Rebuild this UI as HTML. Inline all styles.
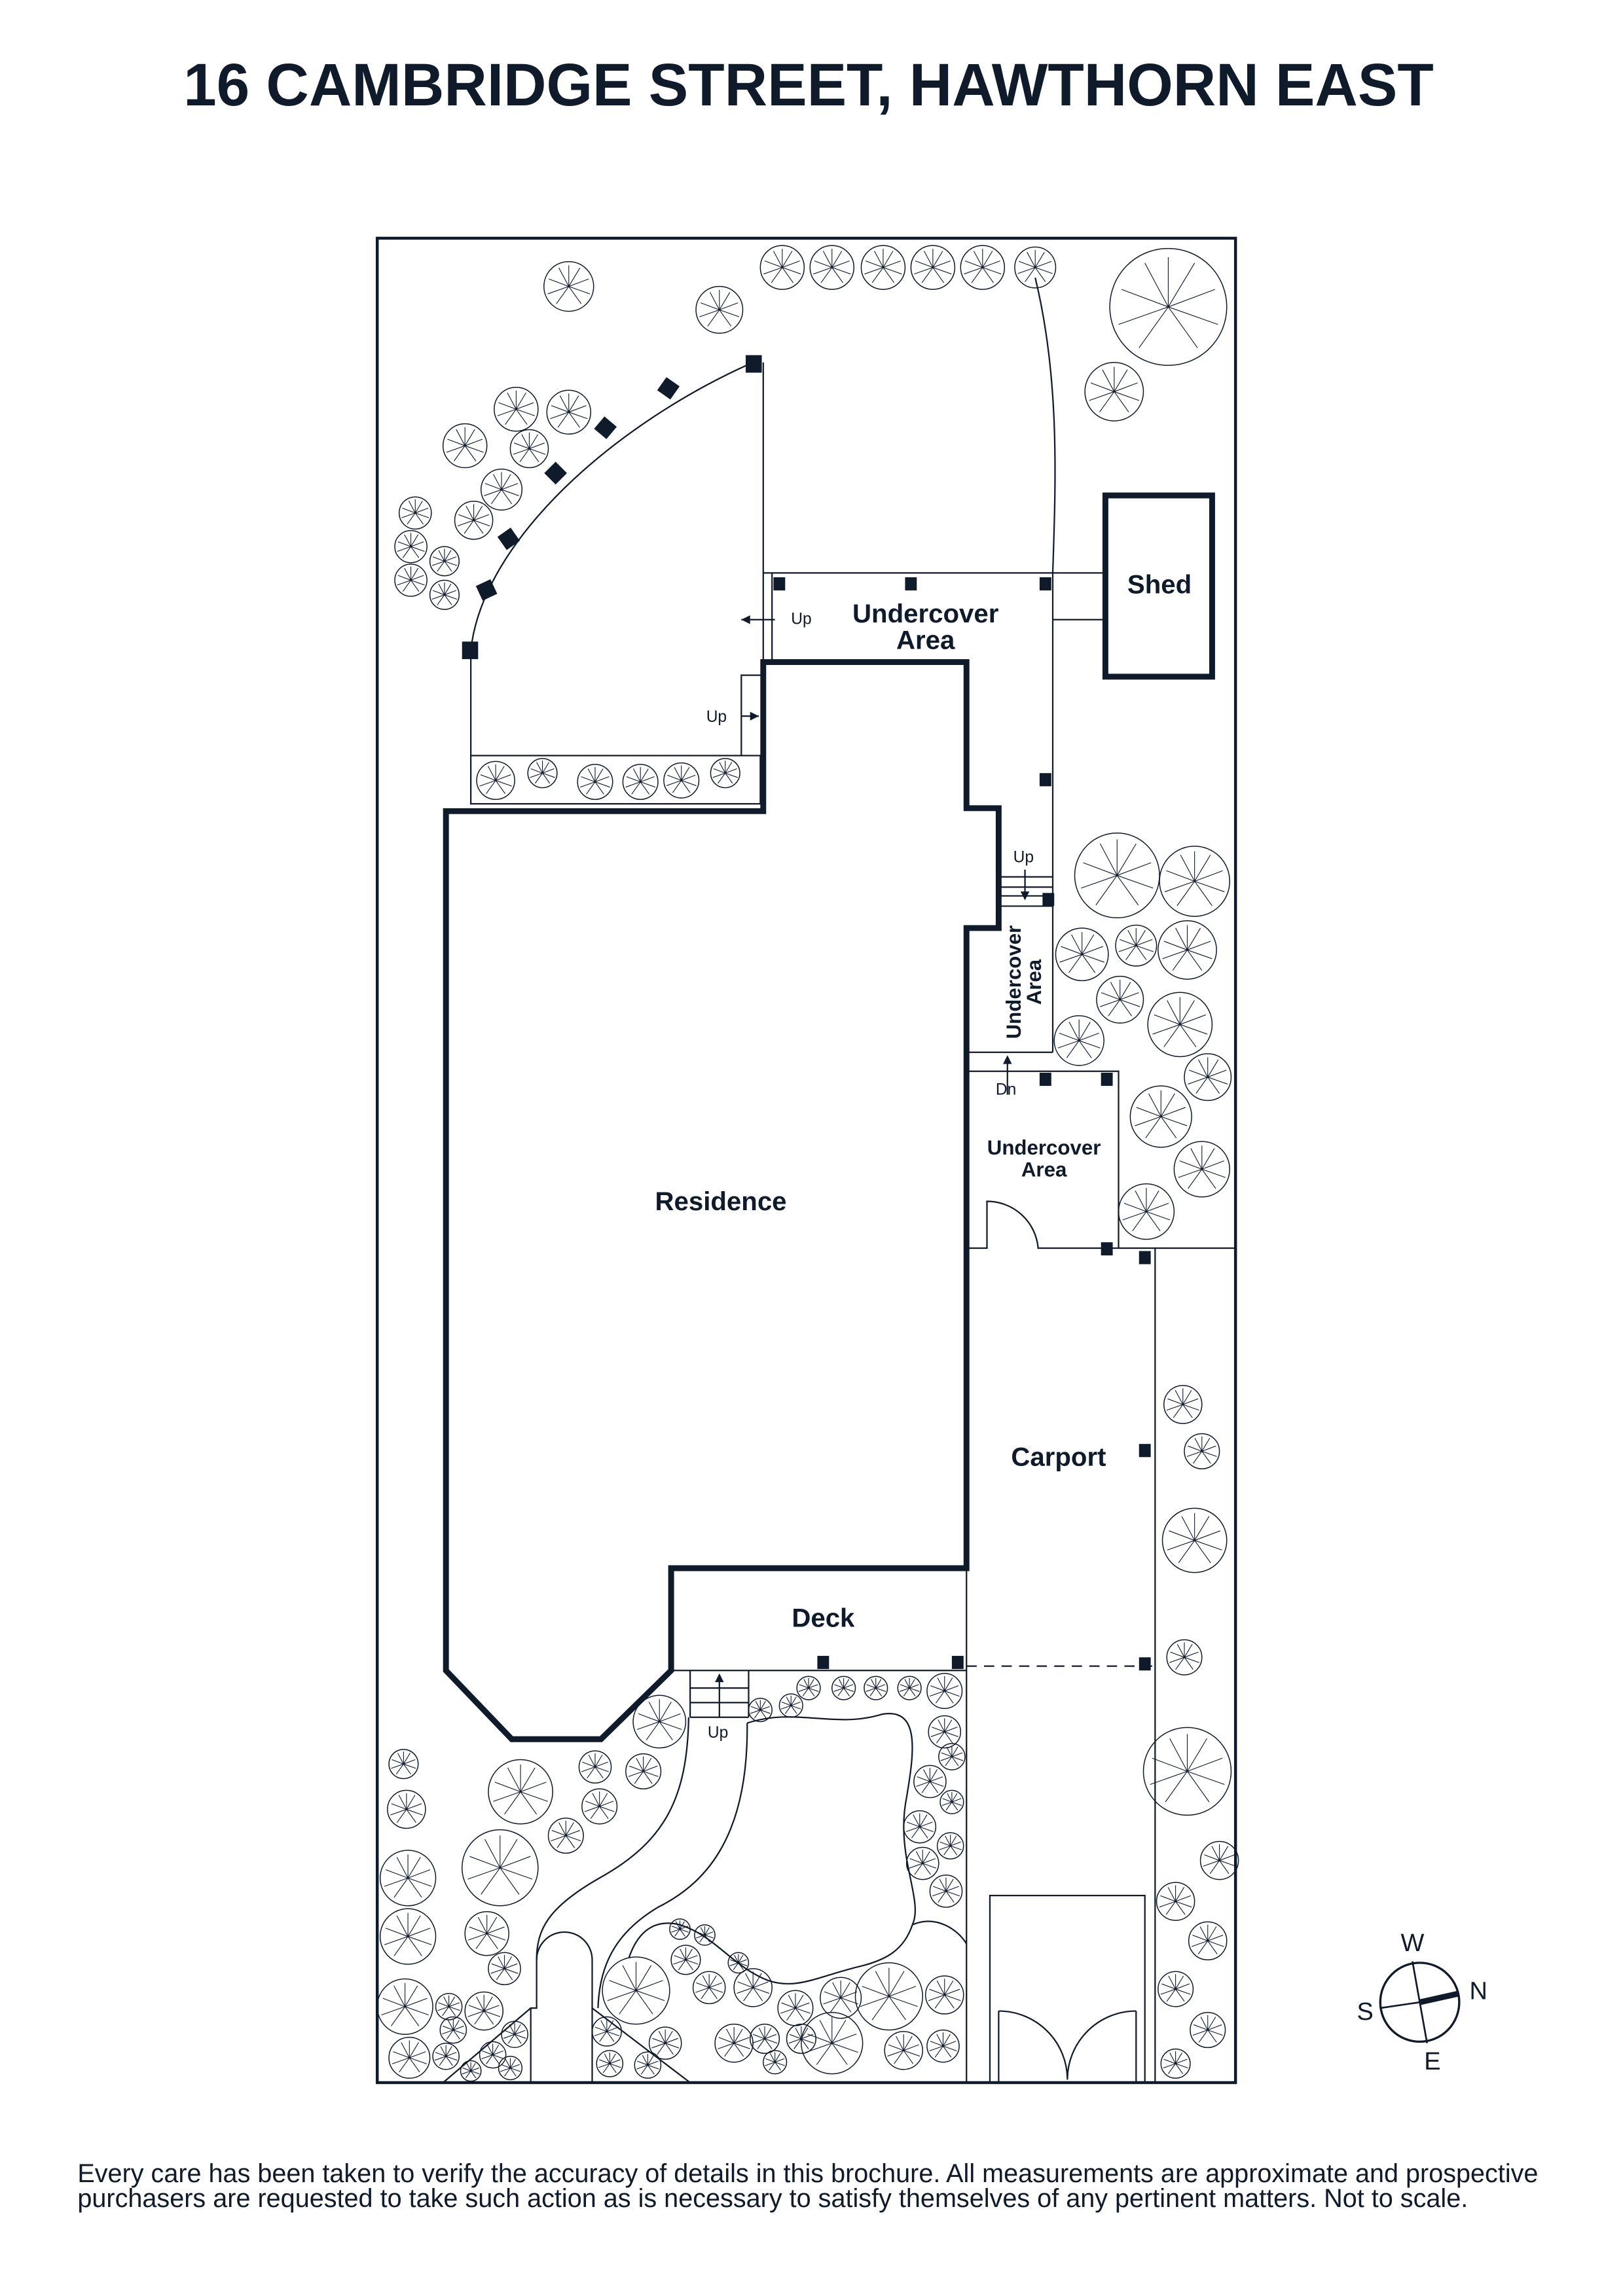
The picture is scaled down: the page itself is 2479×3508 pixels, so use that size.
<!DOCTYPE html>
<html><head><meta charset="utf-8"><style>
html,body{margin:0;padding:0;background:#fff}
svg{display:block}
text{font-family:"Liberation Sans",sans-serif;fill:#0f1a2b}
</style></head><body>
<svg width="2479" height="3508" viewBox="0 0 1110 1571" preserveAspectRatio="none" xmlns="http://www.w3.org/2000/svg">
<defs>
<g id="t" fill="none" stroke="#0f1a2b">
<circle r="1" vector-effect="non-scaling-stroke" stroke-width="1.5"/>
<path d="M0,0L0,-0.85M0,0L0.8,-0.3M0,0L0.5,0.7M0,0L-0.5,0.7M0,0L-0.8,-0.3M0,0L0.45,-0.75M0,0L-0.4,-0.75M0,0L0.85,0.3M0,0L-0.85,0.3" vector-effect="non-scaling-stroke" stroke-width="1.1"/>
</g>
</defs>
<text x="553" y="72" text-anchor="middle" font-size="41" font-weight="bold" textLength="855" lengthAdjust="spacingAndGlyphs">16 CAMBRIDGE STREET, HAWTHORN EAST</text>

<g fill="none" stroke="#0f1a2b" stroke-width="1">
<rect x="258" y="163" width="587" height="1262" stroke-width="2"/>
<path d="M305,555 L522,555 L522,453 L661,453 L661,553 L683,553 L683,635 L661,635 L661,1073 L459,1073 L459,1143 L411,1190 L350,1190 L305,1143 Z" stroke-width="4"/>
<rect x="756" y="339" width="73" height="124" stroke-width="4"/>
<path d="M522,248 L522,453 M528,392 L528,453 M522,392 L756,392 M720,424 L756,424 M720,392 L720,720 M708,190 C725,260 722,330 720,392"/>
<path d="M515,248 C420,290 330,370 322,445 L322,517"/>
<rect x="322" y="517" width="198" height="33"/>
<path d="M507,517 L507,462 L522,462"/>
<path d="M683,600 L720,600 M683,607 L720,607 M683,613 L720,613 M683,620 L720,620"/>
<path d="M661,720 L720,720 M661,733 L765,733 L765,854 M661,854 L675,854 L675,822 A35,35 0 0 1 710,854 L845,854"/>
<path d="M790,854 L790,1425 M661,1073 L661,1425 M459,1143 L661,1143"/>
<path d="M661,1140 L790,1140" stroke-dasharray="7,5"/>
<path d="M677,1425 L677,1297 L783,1297 L783,1425 M683,1425 L683,1376 M777,1425 L777,1376 M683,1376 A47,47 0 0 1 730,1423 M777,1376 A47,47 0 0 0 730,1423"/>
<path d="M472,1143 L472,1175 M512,1143 L512,1175 M472,1155 L512,1155 M472,1165 L512,1165 M472,1175 L512,1175"/>
<path d="M471,1175 C470,1230 455,1260 410,1285 C375,1305 367,1320 367,1341"/>
<path d="M511,1179 C512,1260 480,1290 450,1305 C425,1320 410,1340 409,1374"/>
<path d="M511,1179 C545,1168 570,1183 603,1173 C630,1168 625,1200 620,1230 C612,1270 632,1300 624,1317 C618,1335 605,1341 590,1345 C560,1352 545,1362 525,1355 C500,1345 490,1325 465,1317 C445,1312 435,1325 430,1340"/>
<path d="M624,1317 C640,1310 655,1320 661,1330"/>
<path d="M363,1425 L363,1374 L367,1374 L367,1341 A19,19 0 0 1 405,1341 L405,1425 M363,1374 L303,1425 M405,1374 L472,1425"/>
<circle cx="971" cy="1370" r="27" stroke-width="1.5"/>
<path d="M966,1342 L976,1398 M944,1374 L971,1370" stroke-width="1.2"/>
<path d="M971,1370 L998,1364" stroke-width="4"/>
</g>
<g fill="#0f1a2b">
<rect x="510" y="243" width="11" height="12"/>
<rect x="316" y="439" width="11" height="12"/>
<rect x="452" y="260" width="11" height="11" transform="rotate(35 457 265)"/>
<rect x="409" y="287" width="11" height="11" transform="rotate(40 414 292)"/>
<rect x="375" y="318" width="11" height="11" transform="rotate(45 380 323)"/>
<rect x="343" y="363" width="11" height="11" transform="rotate(55 348 368)"/>
<rect x="328" y="398" width="11" height="11" transform="rotate(65 333 403)"/>
<rect x="529" y="395" width="8" height="9"/><rect x="619" y="395" width="8" height="9"/><rect x="711" y="395" width="8" height="9"/>
<rect x="711" y="529" width="8" height="9"/><rect x="713" y="611" width="8" height="9"/>
<rect x="711" y="734" width="8" height="9"/><rect x="753" y="734" width="8" height="9"/><rect x="753" y="850" width="8" height="9"/><rect x="779" y="856" width="8" height="9"/>
<rect x="779" y="988" width="8" height="9"/><rect x="779" y="1134" width="8" height="9"/><rect x="559" y="1133" width="8" height="9"/><rect x="651" y="1133" width="8" height="9"/>
</g>
<g fill="none" stroke="#0f1a2b" stroke-width="1">
<path d="M507,424 L530,424 M519,490 L507,490 M701,595 L701,614 M689,749 L689,725"/>
</g>
<g fill="#0f1a2b"><path d="M507,424 l6,-3 v6z M519,490 l-6,-3 v6z M701,616 l-3,-6 h6z M689,722 l-3,6 h6z M492,1145 l-3,6 h6z"/></g>
<path d="M492,1150 L492,1175" stroke="#0f1a2b"/>
<g font-size="11"><text x="541" y="427">Up</text><text x="483" y="494">Up</text><text x="693" y="590">Up</text><text x="681" y="749">Dn</text><text x="484" y="1189">Up</text></g>
<g font-size="18" font-weight="bold" text-anchor="middle">
<text x="793" y="406">Shed</text><text x="633" y="426">Undercover</text><text x="633" y="444">Area</text>
<text x="493" y="828">Residence</text><text x="724" y="1003">Carport</text><text x="563" y="1113">Deck</text>
</g>
<g font-size="14" font-weight="bold" text-anchor="middle">
<text x="714" y="790">Undercover</text><text x="714" y="805">Area</text>
<text transform="translate(698,672) rotate(-90)">Undercover</text><text transform="translate(712,672) rotate(-90)">Area</text>
</g>
<g font-size="17"><text x="958" y="1335">W</text><text x="1005" y="1368">N</text><text x="928" y="1382">S</text><text x="974" y="1416">E</text></g>
<g font-size="17.8"><text x="53" y="1493" textLength="999" lengthAdjust="spacingAndGlyphs">Every care has been taken to verify the accuracy of details in this brochure. All measurements are approximate and prospective</text>
<text x="53" y="1510" textLength="951" lengthAdjust="spacingAndGlyphs">purchasers are requested to take such action as is necessary to satisfy themselves of any pertinent matters. Not to scale.</text></g>
<g>
<use href="#t" transform="translate(389,196) scale(17)"/><use href="#t" transform="translate(492,212) scale(16)"/>
<use href="#t" transform="translate(535,183) scale(15)"/><use href="#t" transform="translate(569,183) scale(15)"/><use href="#t" transform="translate(604,183) scale(15)"/><use href="#t" transform="translate(638,183) scale(15)"/><use href="#t" transform="translate(672,183) scale(15)"/><use href="#t" transform="translate(708,183) scale(14)"/>
<use href="#t" transform="translate(799,210) scale(40)"/><use href="#t" transform="translate(762,268) scale(20)"/>
<use href="#t" transform="translate(353,280) scale(15)"/><use href="#t" transform="translate(389,282) scale(15)"/><use href="#t" transform="translate(318,305) scale(15)"/><use href="#t" transform="translate(362,307) scale(13)"/><use href="#t" transform="translate(343,335) scale(14)"/><use href="#t" transform="translate(324,356) scale(13)"/><use href="#t" transform="translate(284,351) scale(11)"/><use href="#t" transform="translate(281,374) scale(11)"/><use href="#t" transform="translate(304,384) scale(10)"/><use href="#t" transform="translate(281,397) scale(11)"/><use href="#t" transform="translate(304,407) scale(10)"/>
<use href="#t" transform="translate(339,534) scale(13)"/><use href="#t" transform="translate(371,529) scale(10)"/><use href="#t" transform="translate(407,535) scale(12)"/><use href="#t" transform="translate(438,535) scale(12)"/><use href="#t" transform="translate(466,534) scale(12)"/><use href="#t" transform="translate(496,529) scale(10)"/>
<use href="#t" transform="translate(764,599) scale(29)"/><use href="#t" transform="translate(817,603) scale(24)"/><use href="#t" transform="translate(740,653) scale(18)"/><use href="#t" transform="translate(777,647) scale(14)"/><use href="#t" transform="translate(812,650) scale(20)"/><use href="#t" transform="translate(766,684) scale(16)"/><use href="#t" transform="translate(807,701) scale(22)"/><use href="#t" transform="translate(738,712) scale(17)"/><use href="#t" transform="translate(826,737) scale(16)"/><use href="#t" transform="translate(794,764) scale(21)"/><use href="#t" transform="translate(822,800) scale(19)"/><use href="#t" transform="translate(784,829) scale(19)"/>
<use href="#t" transform="translate(809,961) scale(13)"/><use href="#t" transform="translate(822,993) scale(12)"/><use href="#t" transform="translate(817,1054) scale(22)"/><use href="#t" transform="translate(810,1134) scale(12)"/><use href="#t" transform="translate(812,1212) scale(30)"/><use href="#t" transform="translate(834,1273) scale(13)"/><use href="#t" transform="translate(804,1301) scale(13)"/><use href="#t" transform="translate(826,1328) scale(13)"/><use href="#t" transform="translate(804,1361) scale(12)"/><use href="#t" transform="translate(826,1389) scale(12)"/><use href="#t" transform="translate(804,1412) scale(10)"/>
<use href="#t" transform="translate(276,1207) scale(10)"/><use href="#t" transform="translate(278,1238) scale(13)"/><use href="#t" transform="translate(279,1285) scale(19)"/><use href="#t" transform="translate(279,1325) scale(19)"/><use href="#t" transform="translate(277,1373) scale(19)"/><use href="#t" transform="translate(280,1408) scale(14)"/>
<use href="#t" transform="translate(356,1226) scale(22)"/><use href="#t" transform="translate(342,1278) scale(26)"/><use href="#t" transform="translate(333,1323) scale(15)"/><use href="#t" transform="translate(345,1347) scale(11)"/><use href="#t" transform="translate(307,1373) scale(9)"/><use href="#t" transform="translate(331,1376) scale(13)"/><use href="#t" transform="translate(310,1389) scale(9)"/><use href="#t" transform="translate(305,1407) scale(9)"/><use href="#t" transform="translate(322,1417) scale(7)"/><use href="#t" transform="translate(337,1406) scale(9)"/><use href="#t" transform="translate(352,1392) scale(9)"/><use href="#t" transform="translate(349,1415) scale(8)"/>
<use href="#t" transform="translate(387,1256) scale(12)"/><use href="#t" transform="translate(410,1236) scale(12)"/><use href="#t" transform="translate(407,1209) scale(11)"/><use href="#t" transform="translate(440,1212) scale(12)"/><use href="#t" transform="translate(451,1178) scale(18)"/>
<use href="#t" transform="translate(553,1155) scale(8)"/><use href="#t" transform="translate(577,1155) scale(8)"/><use href="#t" transform="translate(599,1155) scale(8)"/><use href="#t" transform="translate(622,1155) scale(8)"/><use href="#t" transform="translate(646,1157) scale(12)"/><use href="#t" transform="translate(520,1170) scale(8)"/><use href="#t" transform="translate(541,1167) scale(8)"/><use href="#t" transform="translate(646,1185) scale(11)"/><use href="#t" transform="translate(651,1202) scale(9)"/><use href="#t" transform="translate(636,1219) scale(11)"/><use href="#t" transform="translate(651,1233) scale(8)"/><use href="#t" transform="translate(629,1250) scale(11)"/><use href="#t" transform="translate(650,1263) scale(9)"/><use href="#t" transform="translate(631,1275) scale(11)"/><use href="#t" transform="translate(647,1294) scale(11)"/>
<use href="#t" transform="translate(465,1320) scale(7)"/><use href="#t" transform="translate(482,1324) scale(7)"/><use href="#t" transform="translate(469,1341) scale(10)"/><use href="#t" transform="translate(505,1343) scale(7)"/><use href="#t" transform="translate(485,1360) scale(11)"/><use href="#t" transform="translate(435,1362) scale(23)"/><use href="#t" transform="translate(515,1360) scale(13)"/><use href="#t" transform="translate(544,1374) scale(12)"/><use href="#t" transform="translate(575,1367) scale(14)"/><use href="#t" transform="translate(608,1366) scale(23)"/><use href="#t" transform="translate(646,1365) scale(13)"/><use href="#t" transform="translate(523,1395) scale(10)"/><use href="#t" transform="translate(502,1398) scale(13)"/><use href="#t" transform="translate(548,1395) scale(10)"/><use href="#t" transform="translate(569,1398) scale(21)"/><use href="#t" transform="translate(618,1403) scale(13)"/><use href="#t" transform="translate(645,1400) scale(11)"/><use href="#t" transform="translate(455,1398) scale(11)"/><use href="#t" transform="translate(415,1390) scale(10)"/><use href="#t" transform="translate(417,1412) scale(9)"/><use href="#t" transform="translate(443,1413) scale(9)"/><use href="#t" transform="translate(530,1411) scale(8)"/>
</g>
</svg>
</body></html>
